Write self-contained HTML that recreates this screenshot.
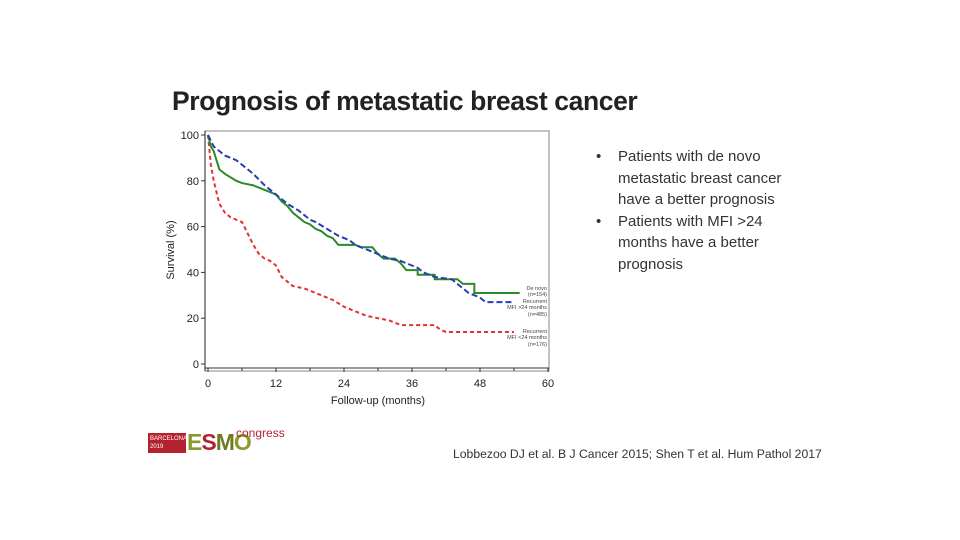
<!DOCTYPE html>
<html><head><meta charset="utf-8"><style>
body{margin:0;width:960px;height:540px;background:#fff;font-family:"Liberation Sans",sans-serif;overflow:hidden;position:relative}
.t{position:absolute}
</style></head><body>
<div class="t" style="left:172px;top:86px;font-size:26.5px;font-weight:bold;color:#222;letter-spacing:-0.4px">Prognosis of metastatic breast cancer</div>
<div class="t" style="left:596px;top:146px;font-size:15px;line-height:21.5px;color:#333;width:200px">
<div style="position:relative;padding-left:22px">
<span style="position:absolute;left:0">•</span>Patients with de novo metastatic breast cancer have a better prognosis</div>
<div style="position:relative;padding-left:22px">
<span style="position:absolute;left:0">•</span>Patients with MFI &gt;24 months have a better prognosis</div>
</div>
<div class="t" style="left:453px;top:447px;font-size:12.2px;color:#333">Lobbezoo DJ et al. B J Cancer 2015; Shen T et al. Hum Pathol 2017</div>
<div class="t" style="left:148px;top:430px;width:140px;height:25px">
<div style="position:absolute;left:0;top:3px;width:38px;height:20px;background:#b5222f;color:#fff;font-size:6px;line-height:8px;padding:2px 2px;box-sizing:border-box;overflow:hidden">BARCELONA<br>2019</div>
<div style="position:absolute;left:39px;top:0px;font-size:23px;font-weight:bold;color:#8a9a2a;letter-spacing:-1px;line-height:25px">E<span style="color:#b5222f">S</span><span style="color:#6d7a1f">M</span><span style="color:#8a9a2a">O</span></div>
<div style="position:absolute;left:88px;top:-4px;font-size:12px;color:#b5222f">congress</div>
</div>
<svg id="chart" width="960" height="540" style="position:absolute;left:0;top:0"></svg>
<script>
const xTicks=[0,12,24,36,48,60];
const yTicks=[0,20,40,60,80,100];
const deNovoX=[0,0.5,1,2,3,5,6,8,10,11,12,13,14,15,16,17,18,19,20,21,22,23,26,27,29,30,31,33,34,35,37,37,40,40,44,45,47,47,55];
const deNovoY=[100,95,93,85,83,80,79,78,76,75,74,71,69,66,64,62,61,59,58,56,55,52,52,51,51,48,46,46,44,41,41,39,39,37,37,35,35,31,31];
const mfiHighX=[0,1,3,5,6,8,10,12,14,16,18,19,21,23,25,26,28,30,32,34,35,37,38,40,43,44,45,46,48,49,54];
const mfiHighY=[100,95,91,89,87,83,78,74,70,67,63,62,59,56,54,52,50,48,46,45,44,42,40,38,37,35,33,31,29,27,27];
const mfiLowX=[0,0.5,1,2,3,4,6,7,8,9,10,11,12,13,14,15,17,19,20,22,24,26,28,30,32,33,34,40,41,42,54];
const mfiLowY=[100,87,80,70,66,64,62,57,52,48,46,45,43,38,36,34,33,31,30,28,25,23,21,20,19,18,17,17,15,14,14];
const NS="http://www.w3.org/2000/svg";
const svg=document.getElementById('chart');
const X0=208,X1=548,Y0=364,Y1=135;
function sx(v){return X0+(X1-X0)*v/60}
function sy(v){return Y0-(Y0-Y1)*v/100}
function mk(tag,attrs,parent){const e=document.createElementNS(NS,tag);for(const k in attrs)e.setAttribute(k,attrs[k]);(parent||svg).appendChild(e);return e}
const frame=mk('rect',{x:205,y:131,width:344,height:240,fill:'none',stroke:'#999','stroke-width':1.2});


const xa=mk('line',{x1:205,y1:368,x2:549,y2:368,stroke:'#333','stroke-width':1});


const ya=mk('line',{x1:205,y1:131,x2:205,y2:371,stroke:'#333','stroke-width':1});


xTicks.forEach(v=>{
 const l=mk('line',{x1:sx(v),y1:368,x2:sx(v),y2:372,stroke:'#333'});
 
 
 const t=mk('text',{x:sx(v),y:387,'text-anchor':'middle','font-size':11,fill:'#222','font-family':'Liberation Sans'});
 t.textContent=v;
 
 
});
for(let v=6;v<60;v+=12){const l=mk('line',{x1:sx(v),y1:368,x2:sx(v),y2:371,stroke:'#333'});}
yTicks.forEach(v=>{
 const l=mk('line',{x1:201,y1:sy(v),x2:205,y2:sy(v),stroke:'#333'});
 
 
 const t=mk('text',{x:199,y:sy(v)+4,'text-anchor':'end','font-size':11,fill:'#222','font-family':'Liberation Sans'});
 t.textContent=v;
 
 
});
const xt=mk('text',{x:378,y:404,'text-anchor':'middle','font-size':11,fill:'#222','font-family':'Liberation Sans'});
xt.textContent='Follow-up (months)';


const yt=mk('text',{x:174,y:250,'text-anchor':'middle','font-size':11,fill:'#222','font-family':'Liberation Sans',transform:'rotate(-90 174 250)'});
yt.textContent='Survival (%)';


function line(xs,ys){let d='M'+sx(xs[0])+','+sy(ys[0]);for(let i=1;i<xs.length;i++){d+=' L'+sx(xs[i])+','+sy(ys[i]);}return d}
const s1=mk('path',{d:line(mfiLowX,mfiLowY),fill:'none',stroke:'#e0332f','stroke-width':2,'stroke-dasharray':'4,3'});


const s2=mk('path',{d:line(deNovoX,deNovoY),fill:'none',stroke:'#2a8a2a','stroke-width':2});


const s3=mk('path',{d:line(mfiHighX,mfiHighY),fill:'none',stroke:'#2b3bb0','stroke-width':2,'stroke-dasharray':'6,3'});


const labels=[[290,'De novo'],[296,'(n=154)'],[303,'Recurrent'],[309,'MFI >24 months'],[316,'(n=485)'],[333,'Recurrent'],[339,'MFI <24 months'],[346,'(n=176)']];
labels.forEach(([y,s])=>{const t=mk('text',{x:547,y:y,'text-anchor':'end','font-size':5.5,fill:'#444','font-family':'Liberation Sans'});t.textContent=s;});
</script>
</body></html>
